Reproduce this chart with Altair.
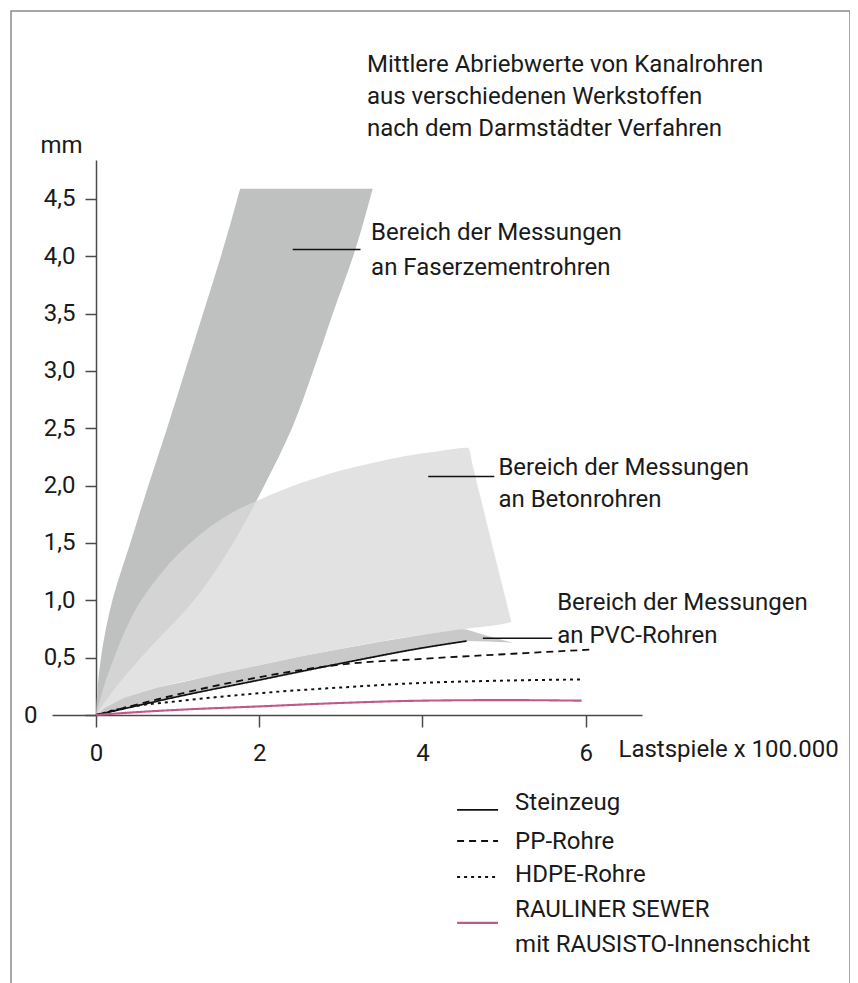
import altair as alt
import pandas as pd

FONT = "Roboto, sans-serif"
FS = 24

# ---- band data ----
fz_y = [0, 0.25, 0.5, 1.0, 1.5, 2.0, 2.5, 3.0, 3.5, 4.0, 4.59]
fz_left = [0, 0.02, 0.06, 0.2, 0.42, 0.64, 0.87, 1.09, 1.31, 1.53, 1.765]
fz_right = [0, 0.25, 0.55, 1.2, 1.68, 2.06, 2.4, 2.66, 2.9, 3.15, 3.39]

beton_x = [0, 0.1, 0.2, 0.42, 0.78, 1.27, 1.76, 2.01, 2.5, 2.99, 3.4, 3.81, 4.2, 4.56,
           4.62, 4.7, 4.8, 4.95, 5.09]
beton_hi = [0, 0.26, 0.46, 0.83, 1.22, 1.57, 1.80, 1.88, 2.02, 2.13, 2.20, 2.26, 2.30, 2.33,
            2.16, 1.93, 1.64, 1.21, 0.81]
beton_lo = [0, 0.06, 0.10, 0.165, 0.245, 0.32, 0.40, 0.435, 0.51, 0.575, 0.63, 0.68, 0.72, 0.755,
            0.76, 0.765, 0.775, 0.79, 0.81]

pvc_x = [0, 0.1, 0.335, 0.75, 1.15, 1.5, 1.97, 2.5, 3.11, 3.5, 4.0, 4.46, 4.54, 4.8, 5.11]
pvc_hi = [0, 0.06, 0.15, 0.24, 0.30, 0.36, 0.43, 0.51, 0.59, 0.64, 0.70, 0.75, 0.745, 0.69, 0.63]
pvc_lo = [0, 0.015, 0.05, 0.12, 0.18, 0.235, 0.30, 0.38, 0.46, 0.51, 0.58, 0.635, 0.645, 0.64, 0.63]

# ---- measured lines ----
series_names = ["Steinzeug", "PP-Rohre", "HDPE-Rohre", "RAULINER SEWER"]
stz_x = [0, 0.5, 1, 2, 3, 4, 4.54]
stz_y = [0, 0.08, 0.16, 0.305, 0.45, 0.585, 0.645]
pp_x = [0, 0.5, 1, 2, 3, 4, 5, 6.05]
pp_y = [0, 0.09, 0.18, 0.33, 0.44, 0.49, 0.53, 0.57]
hdpe_x = [0, 0.33, 1, 2, 3, 4, 5, 5.95]
hdpe_y = [0, 0.06, 0.12, 0.19, 0.24, 0.28, 0.30, 0.31]
rau_x = [0, 0.5, 1, 2, 3, 4, 5, 5.95]
rau_y = [0, 0.025, 0.045, 0.075, 0.105, 0.125, 0.13, 0.125]

# ---- annotations ----
ann_text = ["Mittlere Abriebwerte von Kanalrohren", "aus verschiedenen Werkstoffen",
            "nach dem Darmstädter Verfahren",
            "Bereich der Messungen", "an Faserzementrohren",
            "Bereich der Messungen", "an Betonrohren",
            "Bereich der Messungen", "an PVC-Rohren"]
ann_x = [3.32, 3.32, 3.32, 3.37, 3.37, 4.93, 4.93, 5.65, 5.65]
ann_y = [5.61, 5.33, 5.05, 4.14, 3.84, 2.09, 1.81, 0.92, 0.63]

lead_x = [2.41, 4.07, 4.74]
lead_x2 = [3.24, 4.88, 5.59]
lead_y = [4.06, 2.08, 0.67]

# ---- legend (key lines and labels) ----
leg_x, leg_x2 = 4.424, 4.926
leg_y = [-0.828, -1.099, -1.412, -1.813]
leg_text = ["Steinzeug", "PP-Rohre", "HDPE-Rohre", "RAULINER SEWER", "mit RAUSISTO-Innenschicht"]
leg_text_x = 5.135
leg_text_y = [-0.767, -1.107, -1.395, -1.700, -2.005]

x_ticks = [0, 2, 4, 6]
y_ticks = [0, 0.5, 1.0, 1.5, 2.0, 2.5, 3.0, 3.5, 4.0, 4.5]

# ---- tables ----
fz_df = pd.DataFrame({"y": fz_y, "xl": fz_left, "xr": fz_right})
beton_df = pd.DataFrame({"x": beton_x, "lo": beton_lo, "hi": beton_hi})
pvc_df = pd.DataFrame({"x": pvc_x, "lo": pvc_lo, "hi": pvc_hi})
rows = []
for name, xs, ys in zip(series_names, [stz_x, pp_x, hdpe_x, rau_x], [stz_y, pp_y, hdpe_y, rau_y]):
    for i, (a, b) in enumerate(zip(xs, ys)):
        rows.append({"Werkstoff": name, "x": a, "y": b, "i": i})
lines_df = pd.DataFrame(rows)
ann_df = pd.DataFrame({"x": ann_x, "y": ann_y, "t": ann_text})
lead_df = pd.DataFrame({"x": lead_x, "x2": lead_x2, "y": lead_y})
legkey_df = pd.DataFrame({"Werkstoff": series_names, "x": [leg_x] * 4,
                          "x2": [leg_x2] * 4, "y": leg_y})
legtxt_df = pd.DataFrame({"x": [leg_text_x] * len(leg_text), "y": leg_text_y, "t": leg_text})

AX = "#4a4a4a"
TXT = "#1a1a1a"
xscale = alt.Scale(domain=[-0.54, 6.69], range=[41, 631], nice=False, zero=False)
yscale = alt.Scale(domain=[0, 4.84], range=[704, 149], nice=False, zero=False)

xaxis = alt.Axis(values=x_ticks, format="d", tickSize=12, tickColor=AX, tickWidth=1.5,
                 domainColor=AX, domainWidth=1.5, grid=False,
                 labelFont=FONT, labelFontSize=FS, labelColor=TXT, labelPadding=14,
                 labelFlush=False, labelOverlap=False,
                 offset=-281, title="Lastspiele x 100.000", titleFont=FONT,
                 titleFontSize=FS, titleFontWeight="normal", titleColor=TXT,
                 titleX=607, titleY=34, titleAlign="left", titleBaseline="middle",
                 titleAngle=0)
yaxis = alt.Axis(values=y_ticks, tickSize=11, tickColor=AX, tickWidth=1.5,
                 domainColor=AX, domainWidth=1.5, grid=False,
                 labelFont=FONT, labelFontSize=FS, labelColor=TXT,
                 labelPadding={"condition": {"test": "datum.value == 0", "value": 48}, "value": 10},
                 labelExpr="datum.value == 0 ? '0' : replace(format(datum.value, '.1f'), '.', ',')",
                 labelFlush=False, labelOverlap=False,
                 offset=-85, title="mm", titleFont=FONT, titleFontSize=FS,
                 titleFontWeight="normal", titleColor=TXT, titleAngle=0,
                 titleX=-35, titleY=134, titleAlign="center", titleBaseline="middle")

color_scale = alt.Scale(domain=series_names, range=["#111111", "#111111", "#111111", "#c2578a"])
dash_scale = alt.Scale(domain=series_names, range=[[1, 0], [7, 5], [3, 4], [1, 0]])
width_scale = alt.Scale(domain=series_names, range=[1.7, 2.1, 2.1, 1.5])

fz = alt.Chart(fz_df).mark_area(orient="horizontal", color="#bfc1c0",
                                interpolate="monotone").encode(
    y=alt.Y("y:Q", scale=yscale, axis=yaxis),
    x=alt.X("xl:Q", scale=xscale, axis=xaxis),
    x2="xr:Q",
)
pvc = alt.Chart(pvc_df).mark_area(color="#c9c9c9").encode(
    x=alt.X("x:Q"), y=alt.Y("lo:Q"), y2="hi:Q")
beton = alt.Chart(beton_df).mark_area(color="#dadada", opacity=0.78,
                                      interpolate="monotone").encode(
    x=alt.X("x:Q"), y=alt.Y("lo:Q"), y2="hi:Q")

lines = alt.Chart(lines_df).mark_line(interpolate="monotone").encode(
    x="x:Q", y="y:Q", order="i:Q",
    color=alt.Color("Werkstoff:N", scale=color_scale, legend=None),
    strokeDash=alt.StrokeDash("Werkstoff:N", scale=dash_scale, legend=None),
    strokeWidth=alt.StrokeWidth("Werkstoff:N", scale=width_scale, legend=None),
)

legkeys = alt.Chart(legkey_df).mark_rule().encode(
    x="x:Q", x2="x2:Q", y="y:Q",
    color=alt.Color("Werkstoff:N", scale=color_scale, legend=None),
    strokeDash=alt.StrokeDash("Werkstoff:N", scale=dash_scale, legend=None),
    strokeWidth=alt.StrokeWidth("Werkstoff:N", scale=width_scale, legend=None),
)
legtexts = alt.Chart(legtxt_df).mark_text(align="left", baseline="middle", font=FONT,
                                          fontSize=FS, color=TXT).encode(
    x="x:Q", y="y:Q", text="t:N")

leaders = alt.Chart(lead_df).mark_rule(color="#111111", strokeWidth=1.5).encode(
    x="x:Q", x2="x2:Q", y="y:Q")

texts = alt.Chart(ann_df).mark_text(align="left", baseline="alphabetic", font=FONT,
                                    fontSize=FS, color=TXT).encode(
    x="x:Q", y="y:Q", text="t:N")

chart = alt.layer(fz, pvc, beton, lines, leaders, texts, legkeys, legtexts).properties(
    width=839, height=985,
    autosize=alt.AutoSizeParams(type="none"),
    padding={"left": 3, "top": 3, "right": 0, "bottom": 0},
).configure(
    view={"stroke": "#8a8a8a", "strokeWidth": 1.5},
)

chart.save("out.html", embed_options={"renderer": "svg", "actions": False})
